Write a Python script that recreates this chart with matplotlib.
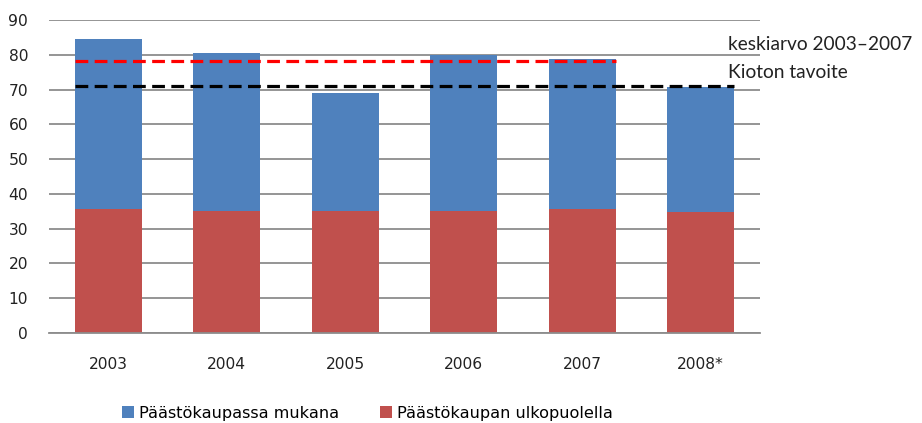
import matplotlib
matplotlib.use("Agg")
import matplotlib.pyplot as plt
import numpy as np

years = ["2003", "2004", "2005", "2006", "2007", "2008*"]
outside_trading = [35.7, 35.2, 35.2, 35.2, 35.6, 34.7]   # Päästökaupan ulkopuolella
total = [84.6, 80.5, 68.9, 79.9, 78.7, 70.6]
in_trading = [t - o for t, o in zip(total, outside_trading)]  # Päästökaupassa mukana
average_2003_2007 = 78.3
kyoto_target = 71.1
y_ticks = list(range(0, 100, 10))

blue = "#4F81BD"
red = "#C0504D"
text_color = "#222222"

fig = plt.figure(figsize=(9.22, 4.23), dpi=100)
ax = fig.add_axes([0.0531, 0.2128, 0.7712, 0.7399])

x = np.arange(len(years))
width = 0.565
ax.bar(x, outside_trading, width, color=red, label="Päästökaupan ulkopuolella", zorder=2)
ax.bar(x, in_trading, width, bottom=outside_trading, color=blue,
       label="Päästökaupassa mukana", zorder=2)

# Reference lines: 2003-2007 average and Kyoto target
ax.plot([x[0] - width / 2, x[4] + width / 2], [average_2003_2007] * 2,
        color="#FF0000", lw=2.3, dashes=(4, 2), zorder=3)
ax.plot([x[0] - width / 2, x[5] + width / 2], [kyoto_target] * 2,
        color="black", lw=2.3, dashes=(4, 2), zorder=3)

fig.text(728 / 922, 1 - 45 / 423, "keskiarvo 2003–2007", ha="left", va="center",
         fontsize=13.8, family="Lato", color=text_color)
fig.text(728 / 922, 1 - 73 / 423, "Kioton tavoite", ha="left", va="center",
         fontsize=13.8, family="Lato", color=text_color)

ax.set_xlim(-0.5, len(years) - 0.5)
ax.set_ylim(0, 90)
ax.set_yticks(y_ticks)
ax.set_xticks(x)
ax.set_xticklabels(years)
ax.yaxis.grid(True, color="#8C8C8C", lw=1.3, zorder=0)
ax.set_axisbelow(True)
for s in ["top", "right", "left"]:
    ax.spines[s].set_visible(False)
ax.spines["bottom"].set_color("#8C8C8C")
ax.spines["bottom"].set_linewidth(1.3)
ax.tick_params(axis="both", length=0, labelsize=11.2, colors=text_color)
ax.tick_params(axis="y", pad=15)
ax.tick_params(axis="x", pad=17)

handles, labels = ax.get_legend_handles_labels()
fig.legend(handles[::-1], labels[::-1], loc="center left",
           bbox_to_anchor=(122 / 922, 1 - 413 / 423),
           ncol=2, frameon=False, fontsize=11.6, handlelength=0.75, handleheight=0.75,
           columnspacing=2.5, handletextpad=0.32, borderpad=0, borderaxespad=0)

fig.savefig("out.png", dpi=100)
